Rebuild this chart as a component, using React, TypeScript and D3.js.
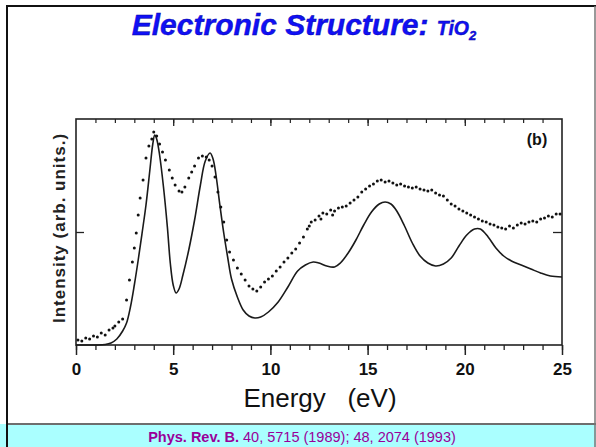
import React, { useEffect, useRef } from "react";
import * as d3 from "d3";

// experiment (dots): [energy eV, intensity arb.]
const expEnergy = [
  0.1, 0.3, 0.5, 0.7, 0.9, 1.1, 1.3, 1.5, 1.7, 1.9, 2.0, 2.2, 2.4, 2.6, 2.75, 2.9, 3.0, 3.1, 3.2, 3.3,
  3.45, 3.6, 3.75, 3.9, 4.0, 4.15, 4.3, 4.45, 4.6, 4.8, 4.95, 5.1, 5.3, 5.45, 5.6, 5.8, 5.95, 6.1, 6.3, 6.5,
  6.7, 6.85, 7.0, 7.15, 7.3, 7.45, 7.6, 7.75, 7.9, 8.1, 8.3, 8.5, 8.7, 8.9, 9.1, 9.3, 9.5, 9.7, 9.9, 10.1,
  10.3, 10.5, 10.7, 10.9, 11.1, 11.3, 11.5, 11.7, 11.9, 12.0, 12.1, 12.3, 12.5, 12.6, 12.7, 12.9, 13.1, 13.2, 13.3, 13.5,
  13.7, 13.9, 14.1, 14.3, 14.5, 14.7, 14.9, 15.1, 15.3, 15.5, 15.7, 15.9, 16.1, 16.3, 16.5, 16.7, 16.9, 17.1, 17.3, 17.5,
  17.7, 17.9, 18.1, 18.3, 18.5, 18.7, 18.9, 19.1, 19.3, 19.5, 19.7, 19.9, 20.1, 20.3, 20.5, 20.7, 20.9, 21.1, 21.3, 21.5,
  21.7, 21.9, 22.1, 22.3, 22.5, 22.7, 22.9, 23.1, 23.3, 23.5, 23.7, 23.9, 24.1, 24.3, 24.5, 24.7, 24.9,
];
const expIntensity = [
  5, 4, 7, 6, 9, 8, 12, 10, 15, 17, 19, 23, 26, 45, 65, 83, 97, 112, 130, 147,
  165, 187, 199, 206, 213, 209, 201, 193, 185, 175, 167, 160, 154, 153, 158, 167, 173, 179, 187, 189,
  188, 185, 179, 168, 153, 138, 123, 105, 93, 85, 77, 71, 65, 59, 56, 54, 58, 63, 66, 69,
  74, 78, 83, 87, 92, 96, 102, 108, 116, 119, 123, 125, 129, 126, 132, 131, 135, 130, 134, 137,
  138, 139, 142, 145, 148, 153, 156, 159, 161, 164, 165, 163, 164, 162, 160, 161, 159, 158, 157, 158,
  156, 155, 154, 155, 152, 150, 149, 145, 141, 139, 136, 134, 132, 130, 128, 126, 124, 123, 121, 120,
  118, 117, 116, 119, 117, 120, 122, 121, 123, 124, 123, 126, 127, 129, 128, 131, 131,
];

// theory (solid line)
const thEnergy = [
  0, 1.0, 1.5, 1.8, 2.1, 2.4, 2.6, 2.8, 3.0, 3.2, 3.4, 3.6, 3.8, 3.95, 4.05, 4.15, 4.3, 4.5, 4.7, 4.85,
  5.0, 5.15, 5.3, 5.5, 5.8, 6.1, 6.4, 6.65, 6.9, 7.05, 7.2, 7.4, 7.6, 7.8, 8.0, 8.3, 8.6, 8.9, 9.2, 9.5,
  9.9, 10.4, 10.9, 11.4, 11.8, 12.2, 12.5, 12.9, 13.3, 13.6, 14.0, 14.4, 14.8, 15.2, 15.6, 15.9, 16.2, 16.5, 16.9, 17.3,
  17.7, 18.1, 18.5, 18.9, 19.3, 19.7, 20.1, 20.5, 20.8, 21.2, 21.6, 22.0, 22.4, 22.9, 23.4, 23.9, 24.4, 25.0,
];
const thIntensity = [
  0, 0, 0.5, 2, 6, 14, 22, 38, 60, 85, 112, 140, 175, 201, 210, 206, 190, 158, 118, 82,
  60, 52, 56, 70, 95, 125, 160, 184, 192, 186, 170, 140, 112, 88, 66, 48, 35, 29, 27, 28,
  33, 43, 58, 74, 80, 83, 82, 79, 78, 82, 92, 105, 120, 133, 141, 143, 141, 134, 119, 102,
  89, 82, 79, 81, 87, 99, 110, 116, 116, 108, 97, 89, 84, 80, 76, 72, 69, 68,
];

const xTickLabels = [0, 5, 10, 15, 20, 25];
const yTicks = [113];

const App = () => {
  const ref = useRef<SVGSVGElement>(null);

  useEffect(() => {
    const svg = d3.select(ref.current);
    svg.selectAll("*").remove();

    const x = d3.scaleLinear().domain([0, 25]).range([76, 562]);
    const y = d3.scaleLinear().domain([0, 226]).range([345, 119]);
    const font = "Liberation Sans, Arial, sans-serif";

    // footer band
    svg.append("rect").attr("x", 0).attr("y", 424).attr("width", 596).attr("height", 23).attr("fill", "#aaffff");
    svg.append("line").attr("x1", 7).attr("x2", 596).attr("y1", 424).attr("y2", 424).attr("stroke", "#6e6e6e").attr("stroke-width", 2);
    // outer frame
    svg.append("path").attr("d", "M7,447 V6 H596").attr("fill", "none").attr("stroke", "#111").attr("stroke-width", 2);
    svg.append("line").attr("x1", 595).attr("x2", 595).attr("y1", 6).attr("y2", 447).attr("stroke", "#777").attr("stroke-width", 1.5);

    const footer = svg.append("text").attr("x", 302).attr("y", 442).attr("text-anchor", "middle")
      .attr("font-family", font).attr("font-size", 14.5).attr("fill", "#990099");
    footer.append("tspan").attr("font-weight", "bold").text("Phys. Rev. B.");
    footer.append("tspan").text(" 40, 5715 (1989); 48, 2074 (1993)");

    // title
    const title = svg.append("text").attr("x", 304).attr("y", 35).attr("text-anchor", "middle")
      .attr("font-family", font).attr("font-weight", "bold").attr("font-style", "italic")
      .attr("fill", "#1010f5").attr("stroke", "#0000a0").attr("stroke-width", 0.4);
    title.append("tspan").attr("font-size", 30).text("Electronic Structure: ");
    title.append("tspan").attr("font-size", 19.5).text("TiO");
    title.append("tspan").attr("font-size", 13).attr("dy", 5).text("2");

    // plot frame
    svg.append("rect").attr("x", 76).attr("y", 119).attr("width", 486).attr("height", 226)
      .attr("fill", "none").attr("stroke", "#222").attr("stroke-width", 1.6);

    const axisFont = (g) => g.selectAll("text").attr("font-family", font)
      .attr("font-weight", "bold").attr("font-size", 17).attr("fill", "#111");

    // bottom axis
    svg.append("g").attr("transform", "translate(0,345)")
      .call(d3.axisBottom(x).tickValues(d3.range(0, 26)).tickSize(5).tickFormat(() => ""))
      .call((g) => g.select(".domain").remove())
      .call((g) => g.selectAll("line").attr("stroke", "#222").attr("stroke-width", 1.3));
    svg.append("g").attr("transform", "translate(0,345)")
      .call(d3.axisBottom(x).tickValues(xTickLabels).tickSize(10).tickPadding(8).tickFormat(d3.format("d")))
      .call((g) => g.select(".domain").remove())
      .call((g) => g.selectAll("line").attr("stroke", "#222").attr("stroke-width", 1.5))
      .call(axisFont);

    // top axis, inward ticks
    svg.append("g").attr("transform", "translate(0,119)")
      .call(d3.axisBottom(x).tickValues(d3.range(1, 25)).tickSize(4).tickFormat(() => ""))
      .call((g) => g.select(".domain").remove())
      .call((g) => g.selectAll("line").attr("stroke", "#222").attr("stroke-width", 1.2));
    svg.append("g").attr("transform", "translate(0,119)")
      .call(d3.axisBottom(x).tickValues(xTickLabels.slice(1, -1)).tickSize(7).tickFormat(() => ""))
      .call((g) => g.select(".domain").remove())
      .call((g) => g.selectAll("line").attr("stroke", "#222").attr("stroke-width", 1.3));

    // left / right axes, inward ticks
    svg.append("g").attr("transform", "translate(76,0)")
      .call(d3.axisRight(y).tickValues(yTicks).tickSize(8).tickFormat(() => ""))
      .call((g) => g.select(".domain").remove())
      .call((g) => g.selectAll("line").attr("stroke", "#222").attr("stroke-width", 1.3));
    svg.append("g").attr("transform", "translate(562,0)")
      .call(d3.axisLeft(y).tickValues(yTicks).tickSize(9).tickFormat(() => ""))
      .call((g) => g.select(".domain").remove())
      .call((g) => g.selectAll("line").attr("stroke", "#222").attr("stroke-width", 1.3));

    // labels
    svg.append("text").attr("x", 320).attr("y", 407).attr("text-anchor", "middle")
      .attr("font-family", font).attr("font-size", 26).attr("fill", "#111")
      .attr("xml:space", "preserve").text("Energy   (eV)");
    svg.append("text").attr("transform", "translate(65,228) rotate(-90)").attr("text-anchor", "middle")
      .attr("font-family", font).attr("font-weight", "bold").attr("font-size", 17).attr("letter-spacing", 1)
      .attr("fill", "#222").text("Intensity (arb. units.)");
    svg.append("text").attr("x", 537).attr("y", 145).attr("text-anchor", "middle")
      .attr("font-family", font).attr("font-weight", "bold").attr("font-size", 16)
      .attr("fill", "#111").text("(b)");

    // theory line
    const th = thEnergy.map((e, i) => ({ e, v: thIntensity[i] }));
    const line = d3.line<{ e: number; v: number }>().x((d) => x(d.e)).y((d) => y(d.v)).curve(d3.curveCatmullRom);
    svg.append("path").datum(th).attr("d", line).attr("fill", "none").attr("stroke", "#1a1a1a").attr("stroke-width", 1.6);

    // experiment dots
    const ex = expEnergy.map((e, i) => ({ e, v: expIntensity[i] }));
    svg.selectAll(".dot").data(ex).join("circle").attr("class", "dot")
      .attr("cx", (d) => x(d.e)).attr("cy", (d) => y(d.v)).attr("r", 1.5).attr("fill", "#111");
  }, []);

  return (
    <svg ref={ref} width={596} height={447} style={{ position: "absolute", left: 0, top: 0, background: "#fff" }} />
  );
};

export default App;
